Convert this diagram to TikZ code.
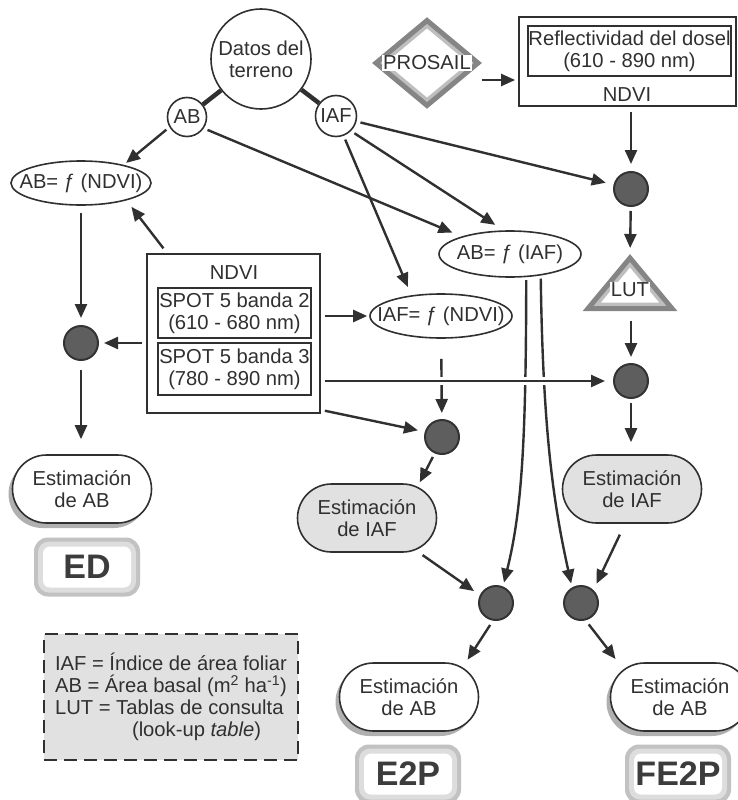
\documentclass[tikz,border=0pt]{standalone}
\usepackage{fontspec}
\setmainfont{Liberation Sans}
\usetikzlibrary{arrows.meta,shadows,shapes.geometric}

\definecolor{ink}{HTML}{303030}
\definecolor{dotfill}{HTML}{5E5E5E}
\definecolor{dotline}{HTML}{333333}
\definecolor{boxfill}{HTML}{E1E1E1}
\definecolor{shade}{HTML}{B0B0B0}
\definecolor{rimdark}{HTML}{858585}
\definecolor{rimlight}{HTML}{BEBEBE}
\definecolor{tagrim}{HTML}{C2C2C2}
\definecolor{tagtext}{HTML}{3C3C3C}

\begin{document}
\begin{tikzpicture}[x=1pt, y=-1pt, line width=2.4pt, color=ink, font=\fontsize{20.2}{22}\selectfont,
  arrow/.style = {-{Triangle[length=14pt,width=12pt]}, shorten <=4pt, shorten >=3pt},
  link/.style = {line width=4.5pt},
  disc/.style = {circle, draw, line width=1.6pt, fill=white, align=center, inner sep=1pt},
  func/.style = {ellipse, draw, line width=1.6pt, fill=white, inner sep=-16pt},
  panel/.style = {rectangle, draw, line width=1.8pt, align=center, inner sep=0pt},
  dot/.style = {circle, draw=dotline, fill=dotfill, line width=2pt, minimum size=34pt, inner sep=0pt},
  result/.style = {rectangle, rounded corners=34pt, draw, line width=1.6pt, align=center, minimum width=139pt, minimum height=68pt, inner sep=0pt},
  whiteresult/.style = {result, fill=white, drop shadow={shadow xshift=-4pt, shadow yshift=-5pt, fill=shade, opacity=1}},
  grayresult/.style = {result, fill=boxfill},
  model/.style = {draw=rimdark, line width=5pt, fill=white, inner sep=0pt},
  tag/.style = {rectangle, rounded corners=14pt, fill=tagrim, minimum width=106pt, minimum height=59pt, inner sep=0pt, text=tagtext, font=\fontsize{34}{34}\selectfont\bfseries,
    path picture={
      \fill[tagrim!55, rounded corners=11pt] ([shift={(4pt,4pt)}]path picture bounding box.south west) rectangle ([shift={(-4pt,-4pt)}]path picture bounding box.north east);
      \fill[white, rounded corners=7pt] ([shift={(9pt,9pt)}]path picture bounding box.south west) rectangle ([shift={(-9pt,-9pt)}]path picture bounding box.north east);}},
  legend/.style = {draw, dash pattern=on 13pt off 7pt, line width=2.6pt, fill=boxfill, minimum width=254pt, minimum height=126pt, align=left, inner sep=0pt}]
\useasboundingbox (0,0) rectangle (738,800);

% field data
\node[disc, minimum size=100pt] (datos) at (261,59) {Datos del\\terreno};
\node[disc, minimum size=39pt] (ab) at (187,117) {AB};
\node[disc, minimum size=41pt] (iaf) at (336,116) {IAF};

% models
\node[func, minimum width=140pt, minimum height=44pt] (abndvi) at (81,183) {AB= ƒ (NDVI)};
\node[func, minimum width=142pt, minimum height=46pt] (abiaf) at (510,254) {AB= ƒ (IAF)};
\node[func, minimum width=142pt, minimum height=44pt] (iafndvi) at (441,316) {IAF= ƒ (NDVI)};

% simulation
\node[model, diamond, minimum width=104pt, minimum height=87pt,
  path picture={\draw[rimlight, line width=12pt] (path picture bounding box.north) -- (path picture bounding box.east) -- (path picture bounding box.south) -- (path picture bounding box.west) -- cycle;},
  label={[fill=white, inner sep=1pt]center:PROSAIL}] (prosail) at (427,63) {};
\node[panel, minimum width=217pt, minimum height=89pt] (refl) at (627.5,61.5) {};
\node[panel, minimum width=203pt, minimum height=50pt] (reflband) at (629.5,51) {Reflectividad del dosel\\(610 - 890 nm)};
\node (reflndvi) at (627,95) {NDVI};

% look-up table
\coordinate (lutapex) at (630,258);
\coordinate (lutleft) at (588,308.5);
\coordinate (lutright) at (672,308.5);
\begin{scope}
\clip (lutapex) -- (lutright) -- (lutleft) -- cycle;
\fill[white] (lutapex) -- (lutright) -- (lutleft) -- cycle;
\draw[rimlight, line width=12pt] (lutapex) -- (lutright) -- (lutleft) -- cycle;
\end{scope}
\draw[rimdark, line width=5pt] (lutapex) -- (lutright) -- (lutleft) -- cycle;
\node[fill=white, inner sep=1pt] (lut) at (630,290) {LUT};

% satellite image
\node[panel, minimum width=173pt, minimum height=159pt] (ndvi) at (233.5,333.5) {};
\node (ndvititle) at (234,273) {NDVI};
\node[panel, minimum width=153pt, minimum height=50pt] (band2) at (234.5,313) {SPOT 5 banda 2\\(610 - 680 nm)};
\node[panel, minimum width=153pt, minimum height=52pt] (band3) at (234.5,369) {SPOT 5 banda 3\\(780 - 890 nm)};

% joins
\node[dot] (dotL) at (81,343) {};
\node[dot] (dotR1) at (631,189) {};
\node[dot] (dotR2) at (631,381) {};
\node[dot] (dotM) at (442,437) {};
\node[dot] (dotB1) at (496,603) {};
\node[dot] (dotB2) at (581,603) {};

% estimates
\node[whiteresult] (estabL) at (82,489) {Estimación\\de AB};
\node[grayresult] (estiafM) at (367,518) {Estimación\\de IAF};
\node[grayresult] (estiafR) at (632,489) {Estimación\\de IAF};
\node[whiteresult] (estabM) at (409,697) {Estimación\\de AB};
\node[whiteresult] (estabR) at (680,697) {Estimación\\de AB};

\node[tag] (tagED) at (87,567) {ED};
\node[tag] (tagE2P) at (408,774) {E2P};
\node[tag] (tagFE2P) at (678,774) {FE2P};

\node[legend] (key) at (171,697) {IAF = Índice de área foliar\\AB = Área basal (m\textsuperscript{2} ha\textsuperscript{-1})\\LUT = Tablas de consulta\\\hspace*{77pt}(look-up \textit{table})};

% connectors
\draw[link] (datos) -- (ab);
\draw[link] (datos) -- (iaf);
\draw[arrow] (ab.210) -- (abndvi.23);
\draw[arrow, shorten >=10pt] (ab.-34) -- (abiaf.160);
\draw[arrow, shorten >=10pt] (iaf.-45) -- (abiaf.105);
\draw[arrow, shorten >=8pt] (iaf.-15) -- (dotR1.166);
\draw[arrow, shorten >=9pt] (iaf.-69) -- (iafndvi.145);
\draw[arrow] ([xshift=-4pt, yshift=-17pt]prosail.east) -- ([yshift=-17pt]prosail.east -| refl.west);
\draw[arrow, shorten <=5pt, shorten >=7pt] (dotR1 |- refl.south) -- (dotR1);
\draw[arrow, shorten >=10pt] (dotR1) -- (lutapex);
\draw[arrow, shorten <=12pt, shorten >=6pt] (dotR2 |- lutleft) -- (dotR2);
\draw[arrow, shorten >=12pt] (dotR2) -- (dotR2 |- estiafR.north);
\draw[arrow, shorten <=7pt, shorten >=7pt] (abndvi) -- (dotL);
\draw[arrow, shorten >=5pt] (dotL -| ndvi.west) -- (dotL);
\draw[arrow, shorten <=9pt, shorten >=15pt] (dotL) -- (dotL |- estabL.north);
\draw[arrow, shorten <=6pt, shorten >=8pt] ([xshift=21pt]ndvi.north west) -- (abndvi.-21);
\draw[arrow, shorten >=2pt] (iafndvi.west -| ndvi.east) -- (iafndvi.west);
\draw[arrow, shorten >=7pt] ([yshift=4pt]ndvi.south east) -- (dotM.163);
\draw[arrow, shorten <=20pt, shorten >=6pt] (iafndvi) -- (dotM);
\draw[arrow, shorten >=1pt] (dotM.246) -- ([xshift=-18pt]estiafM.north east);
\draw[arrow, shorten >=7pt] ([xshift=-18pt]estiafM.south east) -- (dotB1.154);
\draw[arrow, shorten <=3pt, shorten >=4pt] (abiaf.-55) .. controls (526,440) and (522,510) .. (dotB1.67);
\draw[arrow, shorten <=3pt, shorten >=4pt] (abiaf.-35) .. controls (543,440) and (555,510) .. (dotB2.120);
\draw[arrow, shorten >=8pt, preaction={draw=white, line width=8pt, -}] (dotR2 -| ndvi.east) -- (dotR2.west);
\draw[arrow, shorten <=12pt, shorten >=7pt] ([xshift=-7pt]estiafR.south) -- (dotB2.46);
\draw[arrow, shorten <=5pt] (dotB1.-100) -- ([xshift=57pt]estabM.north);
\draw[arrow, shorten <=5pt, shorten >=4pt] (dotB2.-75) -- ([xshift=-62pt]estabR.north);
\end{tikzpicture}
\end{document}
